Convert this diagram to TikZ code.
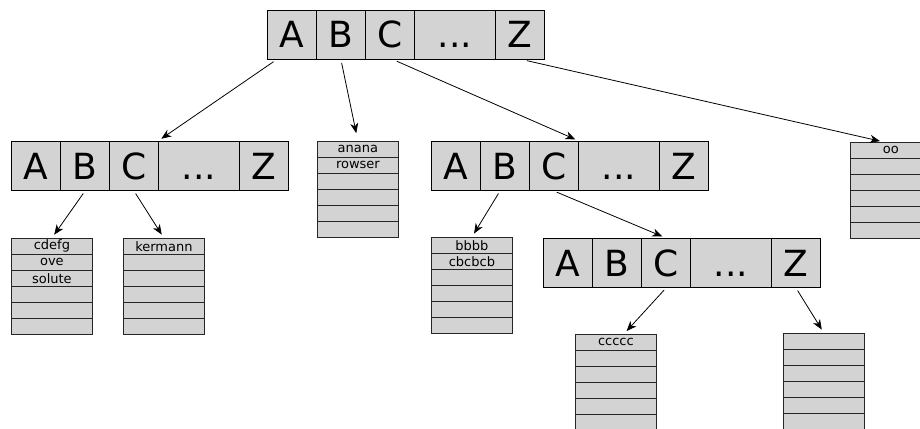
\documentclass[tikz,border=0pt]{standalone}
\usepackage{fontspec}
\setmainfont{DejaVu Sans}
\usepackage{tikz}
\usetikzlibrary{arrows.meta,positioning}
\definecolor{cellgray}{RGB}{211,211,211}
\newcommand{\elide}{...}

\tikzset{
    cell/.style={draw, line width=1pt, fill=cellgray, minimum width=49pt, minimum height=49pt,
        inner sep=0pt, anchor=north west, text height=26pt, text depth=0pt,
        font=\fontsize{36}{36}\selectfont},
    slot/.style={draw=black!85, line width=0.8pt, fill=cellgray, minimum width=81pt, minimum height=16pt,
        inner sep=0pt, anchor=north west, font=\fontsize{13}{13}\selectfont},
    link/.style={-{Stealth[length=10pt,width=8pt,inset=3pt]}, line width=0.8pt, shorten <=3pt, shorten >=4pt}
}

\begin{document}
\begin{tikzpicture}[x=1pt, y=-1pt]
    \useasboundingbox (0,0) rectangle (920,428);

    % Letter arrays
    \foreach \k/\t/\dx/\w in {a/A/0/49, b/B/49/49, c/C/98/49, d/\elide/147/81, z/Z/228/49} {
        \node[cell, minimum width=\w pt] (top\k) at (267+\dx,10) {\t};
        \node[cell, minimum width=\w pt] (left\k) at (11+\dx,141) {\t};
        \node[cell, minimum width=\w pt] (mid\k) at (431+\dx,141) {\t};
        \node[cell, minimum width=\w pt] (bot\k) at (543+\dx,238) {\t};
    }

    % Word lists
    \foreach \i/\t in {0/cdefg, 1/ove, 2/solute, 3/{}, 4/{}, 5/{}}
        \node[slot] (cd\i) at (11,238+16*\i) {\t};
    \foreach \i/\t in {0/kermann, 1/{}, 2/{}, 3/{}, 4/{}, 5/{}}
        \node[slot] (ke\i) at (123,238+16*\i) {\t};
    \foreach \i/\t in {0/anana, 1/rowser, 2/{}, 3/{}, 4/{}, 5/{}}
        \node[slot] (an\i) at (317,141+16*\i) {\t};
    \foreach \i/\t in {0/bbbb, 1/cbcbcb, 2/{}, 3/{}, 4/{}, 5/{}}
        \node[slot] (bb\i) at (431,237+16*\i) {\t};
    \foreach \i/\t in {0/ccccc, 1/{}, 2/{}, 3/{}, 4/{}, 5/{}}
        \node[slot] (cc\i) at (575,334+16*\i) {\t};
    \foreach \i/\t in {0/{}, 1/{}, 2/{}, 3/{}, 4/{}, 5/{}}
        \node[slot] (zz\i) at (783,333+16*\i) {\t};
    \foreach \i/\t in {0/oo, 1/{}, 2/{}, 3/{}, 4/{}, 5/{}}
        \node[slot] (oo\i) at (850,142+16*\i) {\t};

    % Links
    \draw[link] ([xshift=-16pt]topa.south) -- (leftd.north west);
    \draw[link, shorten >=8pt] (topb.south) -- (an0.north);
    \draw[link] ([xshift=4pt]topc.south) -- (midc.north east);
    \draw[link] ([xshift=4pt]topz.south) -- ([xshift=-7pt]oo0.north);
    \draw[link] (leftb.south) -- (cd0.north);
    \draw[link] (leftc.south) -- (ke0.north);
    \draw[link] ([xshift=-5pt]midb.south) -- (bb0.north);
    \draw[link] (midc.south) -- (botc.north);
    \draw[link] (botc.south) -- ([xshift=8pt]cc0.north);
    \draw[link] (botz.south) -- (zz0.north);
\end{tikzpicture}
\end{document}
